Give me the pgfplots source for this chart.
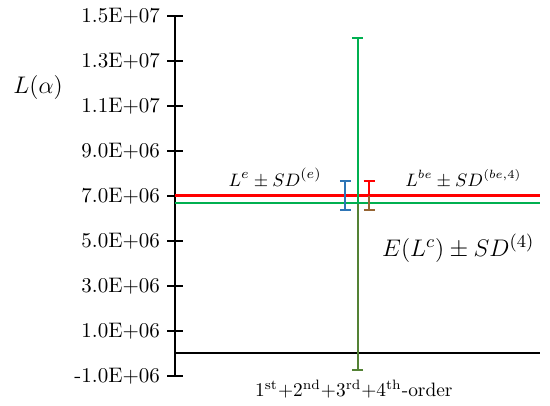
\documentclass[border=0pt]{standalone}
\usepackage{pgfplots}
\pgfplotsset{compat=1.18}
\definecolor{exRed}{RGB}{255,0,0}
\definecolor{exGreen}{RGB}{0,176,80}
\definecolor{exOlive}{RGB}{84,130,53}
\definecolor{exBlue}{RGB}{46,117,182}
\definecolor{exBrown}{RGB}{150,100,50}

\begin{document}
\begin{tikzpicture}
\begin{axis}[
  scale only axis,
  width=182.5pt,height=180pt,
  xmin=0,xmax=1,ymin=-1e6,ymax=1.5e7,
  axis x line=none,
  axis y line*=left,
  axis line style={black,line width=1pt},
  scaled y ticks=false,
  ytick={-1e6,1e6,3e6,5e6,7e6,9e6,1.1e7,1.3e7,1.5e7},
  yticklabels={-1.0E+06,1.0E+06,3.0E+06,5.0E+06,7.0E+06,9.0E+06,1.1E+07,1.3E+07,1.5E+07},
  typeset ticklabel/.code={#1},
  yticklabel style={font=\fontsize{10.5}{12}\selectfont},
  tick align=center,
  major tick length=8pt,
  tick style={black,line width=0.8pt},
  clip=false,
  error bars/error mark=|,
]
% frame so the page keeps the reference's margins
\path (rel axis cs:-0.4795,-0.0833) rectangle (rel axis cs:1.0274,1.0444);

% zero line
\addplot[black,line width=1pt,mark=none] coordinates {(0,0) (1,0)};
% horizontal means
\addplot[exGreen,line width=1pt,mark=none] coordinates {(0,6.7e6) (1,6.7e6)};
\addplot[exRed,line width=1.5pt,mark=none] coordinates {(0,7.0e6) (1,7.0e6)};

% error bars
\addplot[exBlue,mark=none,
  error bars/.cd,y dir=both,y explicit,
  error bar style={exBlue,line width=1pt},
  error mark options={exBlue,mark size=2.75pt,line width=1pt}]
  coordinates {(0.467,7.02e6) +- (0,0.65e6)};
\addplot[exGreen,mark=none,
  error bars/.cd,y dir=plus,y explicit,
  error bar style={exGreen,line width=1pt},
  error mark options={exGreen,mark size=2.75pt,line width=1pt}]
  coordinates {(0.5,6.65e6) +- (0,7.37e6)};
\addplot[exOlive,mark=none,
  error bars/.cd,y dir=minus,y explicit,
  error bar style={exOlive,line width=1pt},
  error mark options={exOlive,mark size=2.75pt,line width=1pt}]
  coordinates {(0.5,6.65e6) +- (0,7.38e6)};
\addplot[exRed,mark=none,
  error bars/.cd,y dir=plus,y explicit,
  error bar style={exRed,line width=1pt},
  error mark options={exRed,mark size=2.75pt,line width=1pt}]
  coordinates {(0.532,7.02e6) +- (0,0.65e6)};
\addplot[exBrown,mark=none,
  error bars/.cd,y dir=minus,y explicit,
  error bar style={exBrown,line width=1pt},
  error mark options={exBrown,mark size=2.75pt,line width=1pt}]
  coordinates {(0.532,7.02e6) +- (0,0.65e6)};

% annotations
\node[font=\fontsize{11.5}{13}\selectfont] at (axis cs:-0.375,1.18e7) {$L(\alpha)$};
\node[font=\fontsize{9.5}{11}\selectfont] at (axis cs:0.274,7.8e6) {$L^{e}\pm SD^{(e)}$};
\node[font=\fontsize{9}{11}\selectfont] at (axis cs:0.79,7.75e6) {$L^{be}\pm SD^{(be,4)}$};
\node[font=\fontsize{12.5}{14}\selectfont] at (axis cs:0.776,4.69e6) {$E(L^{c})\pm SD^{(4)}$};
\node[font=\fontsize{9.7}{11}\selectfont,anchor=north] at (rel axis cs:0.49,0.008)
  {1\textsuperscript{st}+2\textsuperscript{nd}+3\textsuperscript{rd}+4\textsuperscript{th}-order};
\end{axis}
\end{tikzpicture}
\end{document}
